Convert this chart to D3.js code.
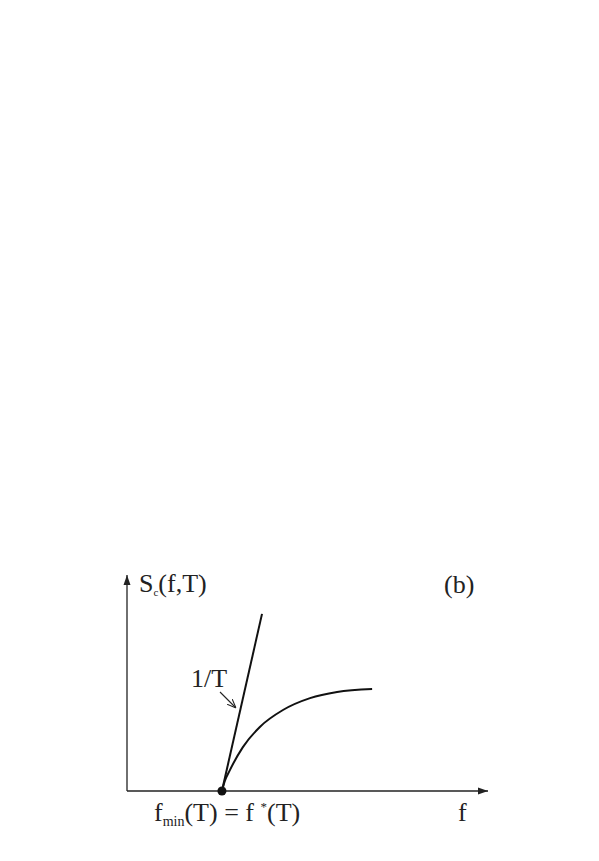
<!DOCTYPE html>
<html>
<head>
<meta charset="utf-8">
<script src="https://cdn.jsdelivr.net/npm/d3@7"></script>
<style>
  body { margin: 0; background: #fff; }
</style>
</head>
<body>
<div id="chart"></div>
<script>
// schematic data (arbitrary units)
const fMin = 2.63;
const tangentF = [2.63, 3.74];
const tangentS = [0, 4.92];
const curveF = [2.63, 2.71, 2.85, 3.21, 3.68, 4.32, 5.07, 5.82, 6.79];
const curveS = [0, 0.28, 0.58, 1.22, 1.78, 2.25, 2.58, 2.75, 2.83];

const width = 599, height = 861;
const origin = {x: 127, y: 791};
const serif = "'Liberation Serif', 'Times New Roman', 'DejaVu Serif', serif";

let svg = d3.select("#chart")
  .append("svg")
  .attr("width", width)
  .attr("height", height);

let x = d3.scaleLinear().domain([0, 10]).range([origin.x, origin.x + 361]);
let y = d3.scaleLinear().domain([0, 6]).range([origin.y, origin.y - 216]);

// arrow markers
let defs = svg.append("defs");
defs.append("marker")
  .attr("id", "axisArrow")
  .attr("viewBox", "0 0 10 10")
  .attr("refX", 10).attr("refY", 5)
  .attr("markerWidth", 10).attr("markerHeight", 10)
  .attr("markerUnits", "userSpaceOnUse")
  .attr("orient", "auto")
  .append("path")
  .attr("d", "M0,1.5 L10,5 L0,8.5 Z")
  .attr("fill", "#222");

defs.append("marker")
  .attr("id", "openArrow")
  .attr("viewBox", "0 0 10 10")
  .attr("refX", 10).attr("refY", 5)
  .attr("markerWidth", 9).attr("markerHeight", 9)
  .attr("markerUnits", "userSpaceOnUse")
  .attr("orient", "auto")
  .append("path")
  .attr("d", "M0,1 L10,5 L0,9")
  .attr("fill", "none")
  .attr("stroke", "#222")
  .attr("stroke-width", 1.2);

// axes
svg.append("line")
  .attr("x1", x(0)).attr("y1", y(0))
  .attr("x2", x(10)).attr("y2", y(0))
  .attr("stroke", "#222").attr("stroke-width", 1.3)
  .attr("marker-end", "url(#axisArrow)");
svg.append("line")
  .attr("x1", x(0)).attr("y1", y(0))
  .attr("x2", x(0)).attr("y2", y(6))
  .attr("stroke", "#222").attr("stroke-width", 1.3)
  .attr("marker-end", "url(#axisArrow)");

const line = d3.line().x(d => x(d[0])).y(d => y(d[1]));

// tangent line with slope 1/T
svg.append("path")
  .datum(d3.zip(tangentF, tangentS))
  .attr("d", line)
  .attr("fill", "none")
  .attr("stroke", "#111")
  .attr("stroke-width", 2);

// S_c curve
svg.append("path")
  .datum(d3.zip(curveF, curveS))
  .attr("d", line.curve(d3.curveMonotoneX))
  .attr("fill", "none")
  .attr("stroke", "#111")
  .attr("stroke-width", 2);

svg.append("circle")
  .attr("cx", x(fMin)).attr("cy", y(0))
  .attr("r", 4.5)
  .attr("fill", "#111");

// pointer arrow to the tangent
svg.append("line")
  .attr("x1", 220).attr("y1", 692)
  .attr("x2", 236).attr("y2", 708)
  .attr("stroke", "#222").attr("stroke-width", 1.1)
  .attr("marker-end", "url(#openArrow)");

// labels
function label(px, py) {
  return svg.append("text")
    .attr("x", px).attr("y", py)
    .attr("font-family", serif)
    .attr("font-size", 26)
    .attr("fill", "#222");
}

let yl = label(139, 592);
yl.append("tspan").text("S");
yl.append("tspan").attr("dy", 4).attr("font-size", 11).text("c");
yl.append("tspan").attr("dy", -4).text("(f,T)");

label(444, 593).text("(b)");
label(191, 687).text("1/T");
label(458, 821).text("f");

let xl = label(154, 821);
xl.append("tspan").text("f");
xl.append("tspan").attr("dy", 5).attr("font-size", 14).text("min");
xl.append("tspan").attr("dy", -5).text("(T) = f ");
xl.append("tspan").attr("dy", -10).attr("font-size", 13).text("*");
xl.append("tspan").attr("dy", 10).text("(T)");
</script>
</body>
</html>
